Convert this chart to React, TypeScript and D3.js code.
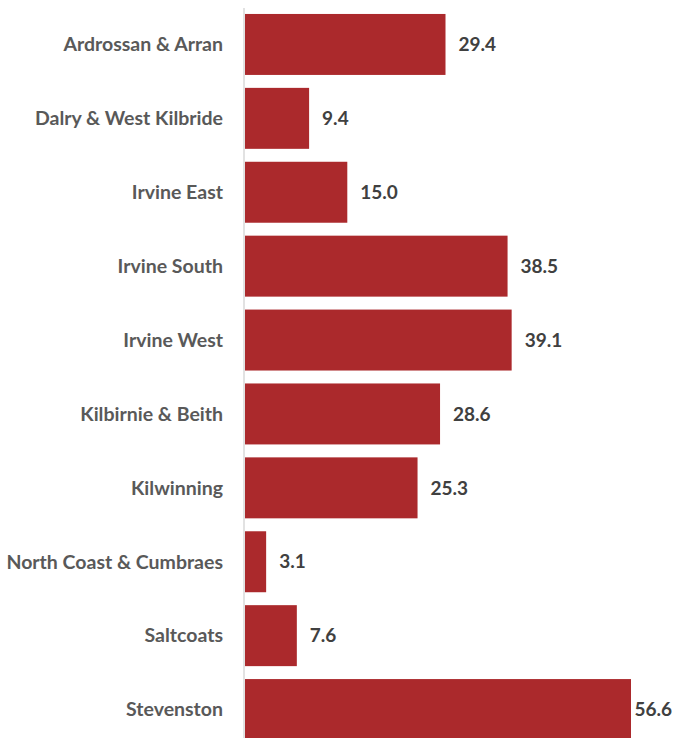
import React from "react";
import * as d3 from "d3";

const categories = [
  "Ardrossan & Arran",
  "Dalry & West Kilbride",
  "Irvine East",
  "Irvine South",
  "Irvine West",
  "Kilbirnie & Beith",
  "Kilwinning",
  "North Coast & Cumbraes",
  "Saltcoats",
  "Stevenston",
];
const values = [29.4, 9.4, 15.0, 38.5, 39.1, 28.6, 25.3, 3.1, 7.6, 56.6];

const W = 673;
const H = 738;

export default function App() {
  const x = d3.scaleLinear().domain([0, 56.6]).range([245, 631]);
  const y = d3
    .scaleBand<string>()
    .domain(categories)
    .range([7.5, 746.5])
    .paddingInner(0.175)
    .paddingOuter(0.0875);
  const font = "Lato, 'Open Sans', sans-serif";
  return (
    <svg
      width={W}
      height={H}
      style={{ position: "absolute", left: 0, top: 0, display: "block", background: "#fff" }}
    >
      {categories.map((c, i) => {
        const yy = y(c)!;
        const bw = y.bandwidth();
        const lx = x(values[i]) + 13;
        const overflow = lx + 39 > W;
        return (
          <g key={c}>
            <rect x={x(0)} y={yy} width={x(values[i]) - x(0)} height={bw} fill="#AB292C" />
            <text
              x={223}
              y={yy + bw / 2}
              dy="0.35em"
              textAnchor="end"
              fontFamily={font}
              fontWeight={700}
              fontSize={19.5}
              fill="#595959"
            >
              {c}
            </text>
            <text
              x={overflow ? W - 1 : lx}
              y={yy + bw / 2}
              dy="0.35em"
              textAnchor={overflow ? "end" : "start"}
              fontFamily={font}
              fontWeight={700}
              fontSize={19}
              fill="#404040"
            >
              {d3.format(".1f")(values[i])}
            </text>
          </g>
        );
      })}
      <line x1={244} x2={244} y1={8} y2={H} stroke="#D9D9D9" strokeWidth={1.5} />
    </svg>
  );
}
